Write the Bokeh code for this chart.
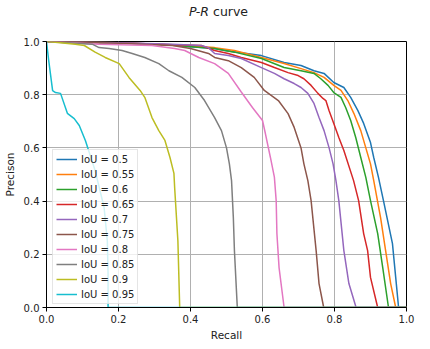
from bokeh.plotting import figure
from bokeh.models import Range1d, FixedTicker, PrintfTickFormatter, Legend, LegendItem, Div
from bokeh.layouts import column
from bokeh.embed import file_html
from bokeh.resources import INLINE

FONT = "DejaVu Sans"

title_italic = "P-R"
title_rest = "curve"

iou_labels = ["IoU = 0.5", "IoU = 0.55", "IoU = 0.6", "IoU = 0.65", "IoU = 0.7",
              "IoU = 0.75", "IoU = 0.8", "IoU = 0.85", "IoU = 0.9", "IoU = 0.95"]
colors = ["#1f77b4", "#ff7f0e", "#2ca02c", "#d62728", "#9467bd",
          "#8c564b", "#e377c2", "#7f7f7f", "#bcbd22", "#17becf"]

recall_050 = [0, 0.2, 0.35, 0.4, 0.466, 0.5, 0.597, 0.66, 0.707, 0.743, 0.771, 0.798, 0.826, 0.845, 0.865, 0.881, 0.9, 0.909, 0.922, 0.936, 0.961, 0.97, 0.978, 1.0]
precision_050 = [1.0, 0.995, 0.988, 0.98, 0.974, 0.965, 0.947, 0.921, 0.91, 0.89, 0.88, 0.846, 0.827, 0.79, 0.74, 0.692, 0.62, 0.564, 0.49, 0.402, 0.24, 0.113, 0.0, 0.0]

recall_055 = [0, 0.2, 0.35, 0.467, 0.522, 0.597, 0.66, 0.707, 0.743, 0.771, 0.798, 0.818, 0.837, 0.854, 0.873, 0.887, 0.9, 0.909, 0.928, 0.942, 0.956, 0.97, 1.0]
precision_055 = [1.0, 0.995, 0.987, 0.977, 0.966, 0.94, 0.917, 0.898, 0.883, 0.865, 0.835, 0.816, 0.778, 0.729, 0.665, 0.6, 0.54, 0.477, 0.338, 0.214, 0.09, 0.0, 0.0]

recall_060 = [0, 0.2, 0.35, 0.467, 0.522, 0.597, 0.66, 0.707, 0.743, 0.762, 0.782, 0.798, 0.818, 0.831, 0.845, 0.859, 0.873, 0.887, 0.9, 0.92, 0.934, 0.95, 1.0]
precision_060 = [1.0, 0.995, 0.986, 0.974, 0.96, 0.936, 0.902, 0.89, 0.88, 0.86, 0.835, 0.808, 0.79, 0.752, 0.703, 0.639, 0.564, 0.489, 0.402, 0.278, 0.15, 0.0, 0.0]

recall_065 = [0, 0.2, 0.35, 0.43, 0.467, 0.505, 0.541, 0.597, 0.633, 0.671, 0.699, 0.715, 0.735, 0.754, 0.768, 0.776, 0.785, 0.798, 0.812, 0.826, 0.853, 0.867, 0.881, 0.892, 0.9, 0.92, 1.0]
precision_065 = [1.0, 0.995, 0.988, 0.985, 0.966, 0.955, 0.94, 0.921, 0.902, 0.883, 0.872, 0.86, 0.835, 0.805, 0.786, 0.778, 0.74, 0.692, 0.639, 0.59, 0.477, 0.402, 0.278, 0.214, 0.113, 0.0, 0.0]

recall_070 = [0, 0.2, 0.35, 0.43, 0.45, 0.467, 0.505, 0.541, 0.597, 0.633, 0.66, 0.688, 0.707, 0.726, 0.743, 0.757, 0.771, 0.785, 0.796, 0.804, 0.812, 0.826, 0.84, 0.86, 1.0]
precision_070 = [1.0, 0.995, 0.99, 0.985, 0.977, 0.955, 0.947, 0.936, 0.902, 0.88, 0.86, 0.842, 0.827, 0.805, 0.767, 0.714, 0.665, 0.6, 0.54, 0.477, 0.402, 0.214, 0.09, 0.0, 0.0]

recall_075 = [0, 0.2, 0.35, 0.4, 0.45, 0.467, 0.505, 0.541, 0.577, 0.605, 0.644, 0.671, 0.688, 0.707, 0.715, 0.726, 0.735, 0.749, 0.757, 0.77, 1.0]
precision_075 = [1.0, 0.993, 0.985, 0.974, 0.955, 0.94, 0.928, 0.902, 0.865, 0.816, 0.778, 0.729, 0.677, 0.6, 0.54, 0.477, 0.402, 0.214, 0.09, 0.0, 0.0]

recall_080 = [0, 0.146, 0.293, 0.356, 0.384, 0.423, 0.467, 0.505, 0.541, 0.572, 0.6, 0.608, 0.622, 0.633, 0.638, 0.64, 0.646, 0.66, 1.0]
precision_080 = [1.0, 0.99, 0.985, 0.974, 0.966, 0.94, 0.917, 0.88, 0.81, 0.752, 0.703, 0.654, 0.564, 0.49, 0.402, 0.278, 0.15, 0.0, 0.0]

recall_085 = [0, 0.127, 0.146, 0.174, 0.21, 0.238, 0.273, 0.312, 0.34, 0.376, 0.412, 0.439, 0.467, 0.486, 0.5, 0.508, 0.514, 0.519, 0.522, 0.53, 1.0]
precision_085 = [1.0, 0.99, 0.977, 0.974, 0.966, 0.955, 0.94, 0.917, 0.89, 0.865, 0.827, 0.778, 0.714, 0.665, 0.6, 0.54, 0.477, 0.338, 0.214, 0.0, 0.0]

recall_090 = [0, 0.003, 0.08, 0.105, 0.135, 0.163, 0.202, 0.229, 0.26, 0.273, 0.293, 0.312, 0.329, 0.343, 0.354, 0.356, 0.365, 0.37, 1.0]
precision_090 = [1.0, 1.0, 0.99, 0.985, 0.96, 0.94, 0.917, 0.865, 0.816, 0.79, 0.714, 0.665, 0.628, 0.564, 0.504, 0.45, 0.25, 0.0, 0.0]

recall_095 = [0, 0.006, 0.017, 0.025, 0.039, 0.058, 0.077, 0.091, 0.108, 0.135, 0.16, 0.169, 0.171, 0.171, 1.0]
precision_095 = [1.0, 0.93, 0.815, 0.808, 0.805, 0.73, 0.71, 0.684, 0.628, 0.515, 0.376, 0.25, 0.128, 0.0, 0.0]

recalls = [recall_050, recall_055, recall_060, recall_065, recall_070,
           recall_075, recall_080, recall_085, recall_090, recall_095]
precisions = [precision_050, precision_055, precision_060, precision_065, precision_070,
              precision_075, precision_080, precision_085, precision_090, precision_095]

ticks = [0.0, 0.2, 0.4, 0.6, 0.8, 1.0]

title_div = Div(text="<i>%s</i> %s" % (title_italic, title_rest), width=430, height=37, margin=0,
                styles={"font-family": FONT, "font-size": "12.5px", "color": "#222222",
                        "padding-left": "189px", "padding-top": "3px",
                        "background-color": "white", "white-space": "nowrap"})

p = figure(width=430, height=312, output_backend="svg", toolbar_location=None,
           x_range=Range1d(0, 1), y_range=Range1d(0, 1),
           min_border_left=44, min_border_right=24, min_border_top=4, min_border_bottom=42,
           margin=0)
p.title = None
p.background_fill_color = "white"
p.border_fill_color = "white"
p.outline_line_color = "black"
p.outline_line_width = 1

for ax in (p.xaxis[0], p.yaxis[0]):
    ax.ticker = FixedTicker(ticks=ticks)
    ax.formatter = PrintfTickFormatter(format="%.1f")
    ax.major_tick_out = 4
    ax.major_tick_in = 0
    ax.minor_tick_line_color = None
    ax.axis_line_color = "black"
    ax.major_tick_line_color = "black"
    ax.major_label_text_font = FONT
    ax.major_label_text_font_size = "10px"
    ax.major_label_text_color = "#222222"
    ax.axis_label_text_font = FONT
    ax.axis_label_text_font_size = "10.5px"
    ax.axis_label_text_font_style = "normal"
    ax.axis_label_text_color = "#222222"
    ax.major_label_standoff = 3

p.xaxis.axis_label = "Recall"
p.yaxis.axis_label = "Precison"
p.xaxis.axis_label_standoff = 3
p.yaxis.axis_label_standoff = 5

p.grid.grid_line_color = "#b0b0b0"
p.grid.grid_line_width = 1
p.xgrid.ticker = FixedTicker(ticks=ticks)
p.ygrid.ticker = FixedTicker(ticks=ticks)

items = []
for r, pr, c, lab in zip(recalls, precisions, colors, iou_labels):
    gl = p.line(r, pr, line_color=c, line_width=1.5)
    items.append(LegendItem(label=lab, renderers=[gl]))

legend = Legend(items=items, location=(6, 3),
                label_text_font=FONT, label_text_font_size="10px", label_text_color="#222222",
                glyph_width=21, glyph_height=12, label_height=12, spacing=3,
                label_standoff=4, padding=3, margin=0,
                border_line_color="#cccccc", border_line_width=1,
                background_fill_color="white", background_fill_alpha=0.8)
p.add_layout(legend, "center")

layout = column(title_div, p, spacing=0, margin=0)

open("out.html", "w").write(file_html(layout, INLINE))
